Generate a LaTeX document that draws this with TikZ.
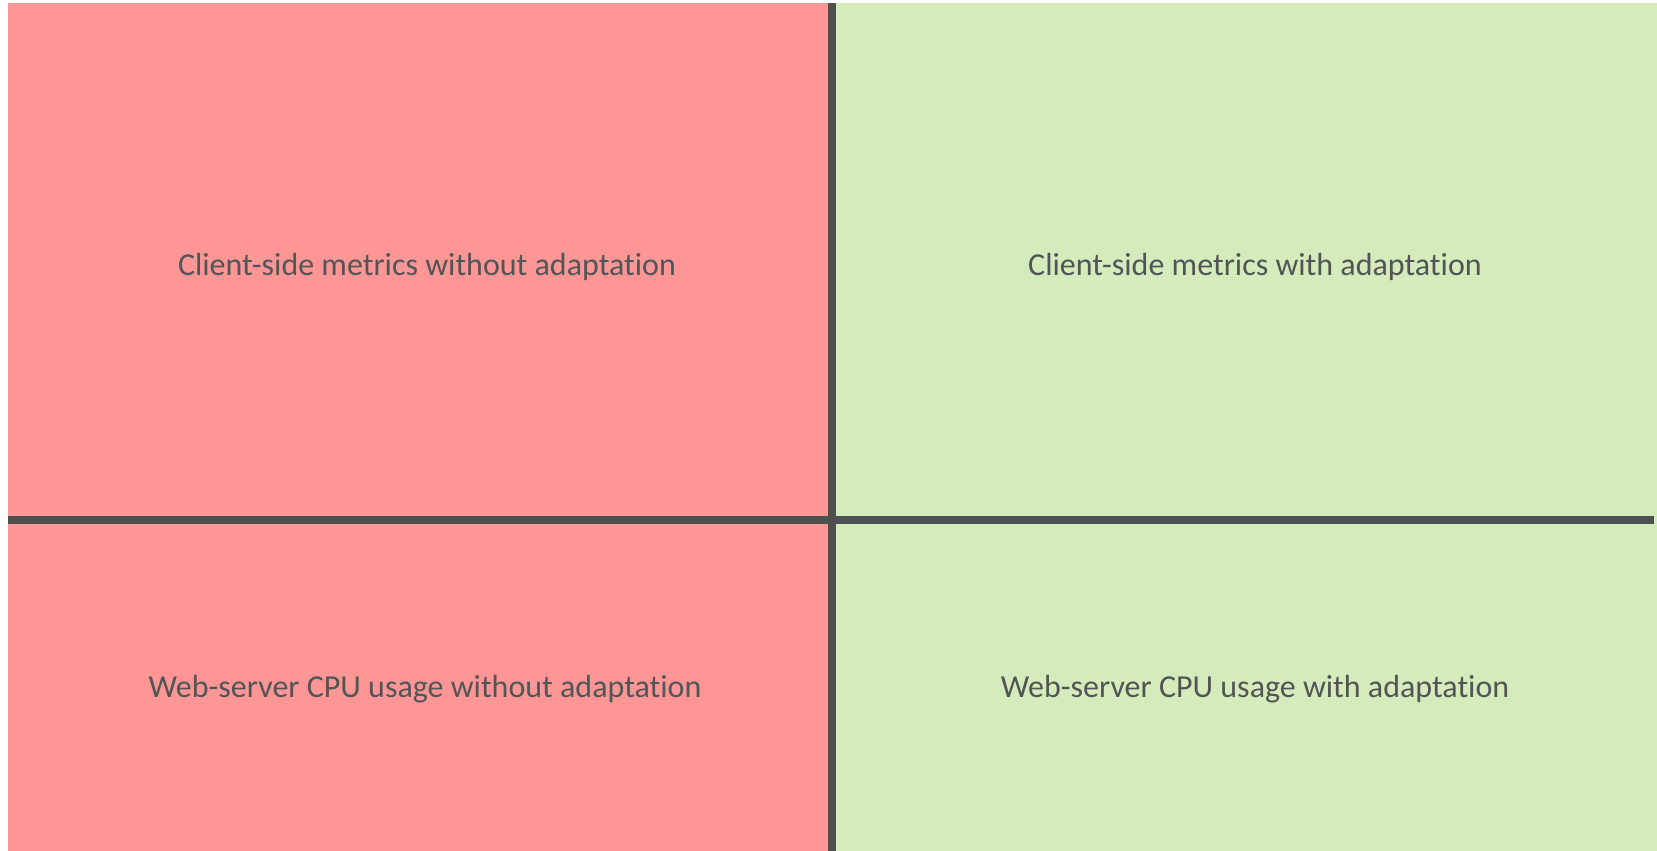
\documentclass[tikz,border=0pt]{standalone}
\usepackage{fontspec}
\setmainfont[RawFeature=-liga]{Carlito}
\definecolor{panelred}{HTML}{FF9696}
\definecolor{panelgreen}{HTML}{D5EBBB}
\definecolor{divider}{HTML}{4D4F4F}
\definecolor{labeltext}{HTML}{505555}
\tikzset{
  panellabel/.style={text=labeltext, font=\fontsize{32}{38}\selectfont, inner sep=0pt, anchor=center},
  divline/.style={draw=divider, line width=8pt}
}
\begin{document}
\begin{tikzpicture}[x=1pt, y=-1pt]
  \useasboundingbox (0,0) rectangle (1657,851);
  \fill[white] (0,0) rectangle (1657,851);
  % quadrants
  \fill[panelred] (8,3) rectangle (832,851);
  \fill[panelgreen] (832,3) rectangle (1657,851);
  % dividers
  \coordinate (vtop) at (832,3);
  \coordinate (vbot) at (832,851);
  \coordinate (hleft) at (8,520);
  \coordinate (hright) at (1654,520);
  \draw[divline] (vtop) -- (vbot);
  \draw[divline] (hleft) -- (hright);
  % labels
  \node[panellabel] (tl) at (427,267) {Client-side metrics without adaptation};
  \node[panellabel] (tr) at (1255,267) {Client-side metrics with adaptation};
  \node[panellabel] (bl) at (425,689) {Web-server CPU usage without adaptation};
  \node[panellabel] (br) at (1255,689) {Web-server CPU usage with adaptation};
\end{tikzpicture}
\end{document}
